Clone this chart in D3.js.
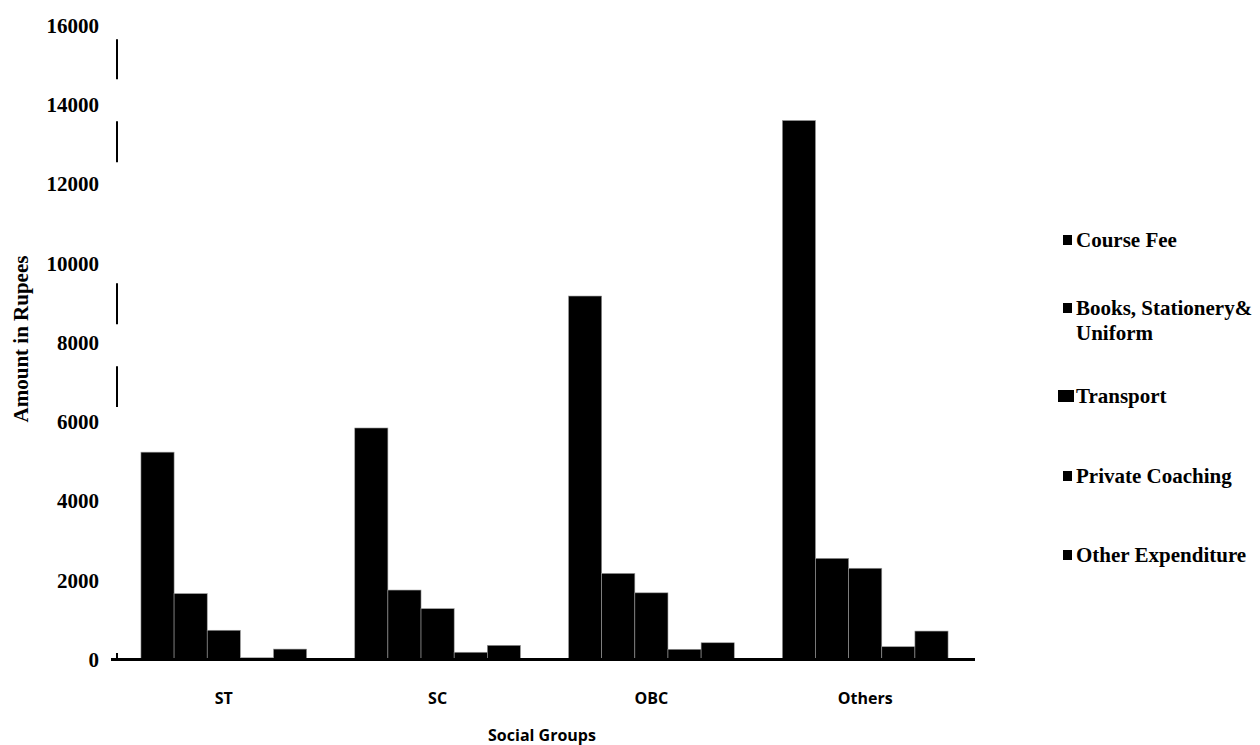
<!DOCTYPE html>
<html>
<head>
<meta charset="utf-8">
<script src="https://cdn.jsdelivr.net/npm/d3@7"></script>
<style>
  html, body { margin: 0; padding: 0; background: #fff; }
  svg { display: block; }
</style>
</head>
<body>
<svg id="chart" width="1260" height="745"></svg>
<script>
// Average expenditure on education by social group (Rupees)
const groups = ["ST", "SC", "OBC", "Others"];
const seriesNames = ["Course Fee", "Books, Stationery& Uniform", "Transport", "Private Coaching", "Other Expenditure"];
const courseFee       = [5220, 5830, 9160, 13590];
const booksStationery = [1650, 1740, 2160, 2540];
const transport       = [725, 1270, 1670, 2290];
const privateCoaching = [30, 170, 245, 310];
const otherExpenditure = [250, 345, 410, 705];
const seriesValues = [courseFee, booksStationery, transport, privateCoaching, otherExpenditure];
const yTicks = [0, 2000, 4000, 6000, 8000, 10000, 12000, 14000, 16000];
// visible pieces of the vertical axis line (value ranges)
const axisPieces = [[14630, 15640], [12535, 13570], [8450, 9480], [6360, 7390]];

const svg = d3.select("#chart");
const serif = "'Liberation Serif', 'Times New Roman', serif";
const sans = "'Open Sans', 'Noto Sans', sans-serif";

const y = d3.scaleLinear().domain([0, 16000]).range([659, 25]);
const x0 = d3.scaleBand().domain(groups).range([117, 972]).paddingInner(0.225).paddingOuter(0.112);
const x1 = d3.scaleBand().domain(seriesNames).range([0, x0.bandwidth()]);

// y tick labels
const yAxis = d3.axisLeft(y).tickValues(yTicks).tickSize(0).tickPadding(0).tickFormat(d3.format("d"));
const gy = svg.append("g").attr("transform", "translate(99,0)").call(yAxis);
gy.select(".domain").remove();
gy.selectAll("text")
  .attr("font-family", serif).attr("font-weight", "bold").attr("font-size", 21)
  .attr("fill", "#000").attr("dy", "0.35em");

// fragments of the vertical axis line
svg.append("g").selectAll("line").data(axisPieces).join("line")
  .attr("x1", 117).attr("x2", 117)
  .attr("y1", d => y(d[0])).attr("y2", d => y(d[1]))
  .attr("stroke", "#000").attr("stroke-width", 2);
svg.append("line").attr("x1", 117).attr("x2", 117)
  .attr("y1", y(0)).attr("y2", y(0) - 6)
  .attr("stroke", "#000").attr("stroke-width", 2);

// bars
const gGroups = svg.append("g").selectAll("g").data(groups).join("g")
  .attr("transform", d => `translate(${x0(d)},0)`);
gGroups.selectAll("rect")
  .data((g, gi) => seriesNames.map((s, si) => ({ s, v: seriesValues[si][gi] })))
  .join("rect")
  .attr("x", d => x1(d.s))
  .attr("width", x1.bandwidth())
  .attr("y", d => y(d.v))
  .attr("height", d => y(0) - y(d.v))
  .attr("fill", "#000")
  .attr("stroke", "#9a9a9a").attr("stroke-width", 0.6);

// horizontal axis line
svg.append("line").attr("x1", 111).attr("x2", 975)
  .attr("y1", y(0) + 0.5).attr("y2", y(0) + 0.5)
  .attr("stroke", "#000").attr("stroke-width", 3);

// x tick labels
const xAxis = d3.axisBottom(x0).tickSize(0).tickPadding(0);
const gx = svg.append("g").attr("transform", "translate(0,698)").call(xAxis);
gx.select(".domain").remove();
gx.selectAll("text")
  .attr("font-family", sans).attr("font-weight", "bold").attr("font-size", 16)
  .attr("fill", "#000").attr("dy", "0.35em");

// axis titles
svg.append("text").attr("x", 542).attr("y", 735).attr("dy", "0.35em")
  .attr("text-anchor", "middle")
  .attr("font-family", sans).attr("font-weight", "bold").attr("font-size", 16)
  .text("Social Groups");
svg.append("text")
  .attr("transform", "translate(21,339) rotate(-90)")
  .attr("dy", "0.35em").attr("text-anchor", "middle")
  .attr("font-family", serif).attr("font-weight", "bold").attr("font-size", 21)
  .text("Amount in Rupees");

// legend
const legendRows = [
  { lines: ["Course Fee"], y: 240 },
  { lines: ["Books, Stationery&", "Uniform"], y: 308 },
  { lines: ["Transport"], y: 396 },
  { lines: ["Private Coaching"], y: 476 },
  { lines: ["Other Expenditure"], y: 555 }
];
const legend = svg.append("g").selectAll("g").data(legendRows).join("g");
legend.append("rect")
  .attr("x", (d, i) => i === 2 ? 1058 : 1063)
  .attr("y", (d, i) => d.y - (i === 2 ? 6 : 5))
  .attr("width", (d, i) => i === 2 ? 16 : 9)
  .attr("height", (d, i) => i === 2 ? 12 : 10)
  .attr("fill", "#000");
legend.append("text")
  .attr("font-family", serif).attr("font-weight", "bold").attr("font-size", 21)
  .attr("fill", "#000")
  .selectAll("tspan").data(d => d.lines.map((t, k) => ({ t, y: d.y + k * 25 }))).join("tspan")
  .attr("x", 1076).attr("y", d => d.y).attr("dy", "0.35em")
  .text(d => d.t);
</script>
</body>
</html>
